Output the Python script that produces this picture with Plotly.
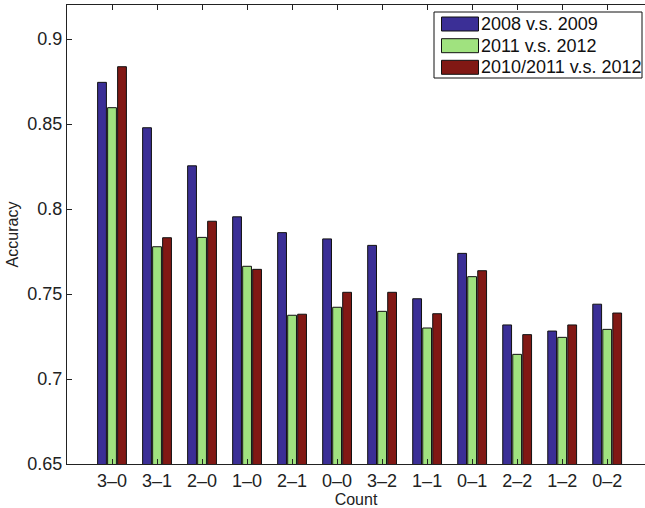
import plotly.graph_objects as go

# Pitch-count categories and classification accuracy per season pairing
counts = ["3\u20130", "3\u20131", "2\u20130", "1\u20130", "2\u20131", "0\u20130",
          "3\u20132", "1\u20131", "0\u20131", "2\u20132", "1\u20132", "0\u20132"]
acc_2008_2009 = [0.8745, 0.8478, 0.8254, 0.7954, 0.7861, 0.7824,
                 0.7786, 0.7472, 0.7739, 0.7318, 0.7282, 0.7440]
acc_2011_2012 = [0.8596, 0.7778, 0.7833, 0.7663, 0.7375, 0.7422,
                 0.7398, 0.7300, 0.7602, 0.7145, 0.7245, 0.7292]
acc_2010_2011_2012 = [0.8837, 0.7831, 0.7928, 0.7645, 0.7381, 0.7510,
                      0.7510, 0.7384, 0.7637, 0.7261, 0.7318, 0.7388]
series_names = ["2008 v.s. 2009", "2011 v.s. 2012", "2010/2011 v.s. 2012"]
series_colors = ["#3b2f96", "#a0e27f", "#811814"]

y_ticks = [0.65, 0.7, 0.75, 0.8, 0.85, 0.9]
y_tick_text = ["0.65", "0.7", "0.75", "0.8", "0.85", "0.9"]

FONT = "Liberation Sans, Arial, Helvetica, sans-serif"
W, H = 645, 508
ML, MR, MT, MB = 67, 0, 5, 44

fig = go.Figure()
for name, vals, col in zip(series_names,
                           [acc_2008_2009, acc_2011_2012, acc_2010_2011_2012],
                           series_colors):
    fig.add_trace(go.Bar(
        x=list(range(len(counts))), y=vals, name=name,
        marker=dict(color=col, line=dict(color="#111111", width=1)),
        showlegend=False,
    ))


# Boxed legend with wide colour swatches, placed in pixel terms
def px_x(px):
    return (px - ML) / (W - ML - MR)


def px_y(py):
    return (H - MB - py) / (H - MT - MB)


shapes = [dict(type="rect", xref="paper", yref="paper",
               x0=px_x(434), x1=px_x(642), y0=px_y(78), y1=px_y(12),
               fillcolor="white", line=dict(color="#111111", width=1), layer="above")]
annotations = []
row_centers = [24, 45.7, 67.3]
for name, col, cy in zip(series_names, series_colors, row_centers):
    shapes.append(dict(type="rect", xref="paper", yref="paper",
                       x0=px_x(441.5), x1=px_x(478.5),
                       y0=px_y(cy + 7), y1=px_y(cy - 7),
                       fillcolor=col, line=dict(color="#111111", width=1),
                       layer="above"))
    annotations.append(dict(xref="paper", yref="paper", x=px_x(479), y=px_y(cy),
                            text=name, showarrow=False, xanchor="left",
                            yanchor="middle",
                            font=dict(family=FONT, size=18, color="#111111")))

fig.update_layout(
    width=W, height=H,
    margin=dict(l=ML, r=MR, t=MT, b=MB),
    plot_bgcolor="white", paper_bgcolor="white",
    barmode="group", bargap=1/3, bargroupgap=0.12,
    font=dict(family=FONT, size=18, color="#222222"),
    shapes=shapes, annotations=annotations,
)
fig.update_xaxes(
    range=[-1, 11.84],
    tickmode="array", tickvals=list(range(len(counts))), ticktext=counts,
    ticks="inside", ticklen=5, tickcolor="#222222",
    showline=True, linecolor="#222222", linewidth=1, mirror="ticks",
    showgrid=False, zeroline=False,
    title=dict(text="Count", font=dict(family=FONT, size=16), standoff=0),
    tickfont=dict(family=FONT, size=18),
)
fig.update_yaxes(
    range=[0.65, 0.92],
    tickmode="array", tickvals=y_ticks, ticktext=y_tick_text,
    ticks="inside", ticklen=5, tickcolor="#222222",
    showline=True, linecolor="#222222", linewidth=1, mirror=False,
    showgrid=False, zeroline=False,
    title=dict(text="Accuracy", font=dict(family=FONT, size=16), standoff=4),
    tickfont=dict(family=FONT, size=18),
)

fig.write_html("out.html")
